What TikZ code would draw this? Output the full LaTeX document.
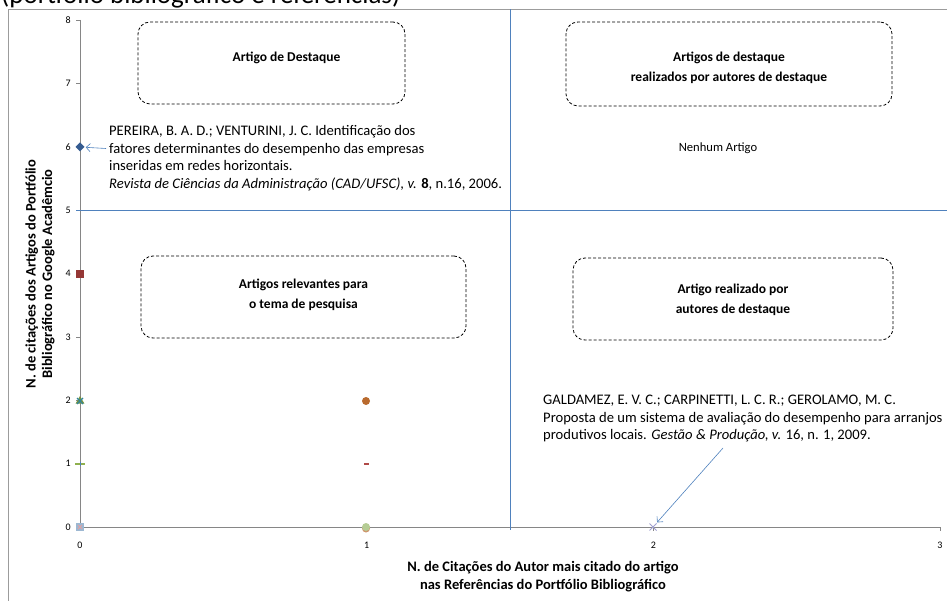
\documentclass[tikz,border=0pt]{standalone}
\usepackage{fontspec}
\setmainfont{Carlito}
\usepackage{tikz}
\usetikzlibrary{shapes, arrows.meta, positioning, calc}

\definecolor{quadblue}{HTML}{4F81BD}
\definecolor{axisgray}{HTML}{868686}
\definecolor{framegray}{HTML}{9C9C9C}
\definecolor{ptnavy}{HTML}{355C91}
\definecolor{ptbrick}{HTML}{953735}
\definecolor{ptolive}{HTML}{77933C}
\definecolor{ptteal}{HTML}{31859C}
\definecolor{ptlime}{HTML}{8FB04E}
\definecolor{ptsteel}{HTML}{9DB8D2}
\definecolor{ptpink}{HTML}{E6A0A0}
\definecolor{ptorange}{HTML}{B96A2E}
\definecolor{ptred}{HTML}{B04A48}
\definecolor{ptsage}{HTML}{B5CC94}
\definecolor{ptlilac}{HTML}{A0A0D0}

\begin{document}
\begin{tikzpicture}[x=1pt, y=-1pt,
    quadbox/.style={draw, line width=0.8pt, dash pattern=on 3pt off 2pt, rounded corners=12pt},
    quadlabel/.style={align=center, font=\fontsize{13.5}{20.5}\selectfont\bfseries},
    ticklabel/.style={font=\fontsize{10}{11}\selectfont, inner sep=0pt},
    refnote/.style={align=left, anchor=north west, inner sep=0pt, font=\fontsize{14.6}{17.5}\selectfont},
    callout/.style={draw=quadblue, line width=0.6pt, -{Straight Barb[length=4pt, width=8pt]}, shorten >=1.5pt},
    divider/.style={draw=quadblue, line width=1pt},
    mk/.style={inner sep=0pt, outer sep=0pt}]

        \useasboundingbox (0,0) rectangle (947,601);

        % ------------------ Frame and axes ------------------

        \node[anchor=base west, inner sep=0pt, font=\fontsize{27}{30}\selectfont] (title) at (1,3.5) {(portfólio bibliográfico e referências)};

        \draw[framegray, line width=0.8pt] (8,620) -- (8,9.5) -- (960,9.5);

        \draw[axisgray, line width=0.8pt] (80,20) -- (80,527) -- (940,527);
        \foreach \k in {0,...,8} {
            \draw[axisgray, line width=0.6pt] (76,527-63.375*\k) -- (80,527-63.375*\k);
            \node[ticklabel, anchor=east] at (71,527-63.375*\k) {\k};
        }
        \foreach \k in {0,...,3} {
            \draw[axisgray, line width=0.6pt] (80+286.67*\k,527) -- (80+286.67*\k,531);
            \node[ticklabel] at (80+286.67*\k,545) {\k};
        }

        \node[rotate=90, align=center, font=\fontsize{14.5}{16.5}\selectfont\bfseries] (ytitle) at (40,274)
            {N. de citações dos Artigos do Portfólio\\Bibliográfico no Google Acadêmcio};
        \node[align=center, font=\fontsize{14.5}{18}\selectfont\bfseries] (xtitle) at (543,577)
            {N. de Citações do Autor mais citado do artigo\\nas Referências do Portfólio Bibliográfico};

        % Quadrant dividers
        \draw[divider] (510.5,9.5) -- (510.5,530);
        \draw[divider] (76,210.5) -- (960,210.5);

        % ------------------ Quadrant labels ------------------

        \node[quadbox, minimum width=267pt, minimum height=82pt] (destaque) at (271.5,63) {};
        \node[quadbox, minimum width=326pt, minimum height=84pt] (ambos) at (729,64) {};
        \node[quadbox, minimum width=325pt, minimum height=82pt] (relevantes) at (303.5,297) {};
        \node[quadbox, minimum width=320pt, minimum height=82pt] (autores) at (733,299) {};

        \node[quadlabel] (destaquetxt) at ($(destaque.center)+(15,-5)$) {Artigo de Destaque};
        \node[quadlabel] (ambostxt) at ($(ambos.center)+(0,4)$) {Artigos de destaque\\realizados por autores de destaque};
        \node[quadlabel] (relevantestxt) at ($(relevantes.center)+(0,-2)$) {Artigos relevantes para\\o tema de pesquisa};
        \node[quadlabel] (autorestxt) at ($(autores.center)+(0,1)$) {Artigo realizado por\\autores de destaque};

        \node[font=\fontsize{12.6}{14}\selectfont] (nenhum) at (718,148) {Nenhum Artigo};

        % ------------------ Data points ------------------

        \node[mk, diamond, fill=ptnavy, minimum size=9pt] (art06) at (80,147) {};
        \node[mk, rectangle, fill=ptbrick, minimum size=8pt] (art04) at (80,274) {};
        \node[mk, regular polygon, regular polygon sides=3, fill=ptolive, minimum size=10pt] (art02a) at (80,401) {};
        \node[mk, cross out, draw=ptteal, line width=1.3pt, minimum size=6pt] (art02b) at (80,401) {};
        \node[mk, rectangle, fill=ptlime, minimum width=10pt, minimum height=2pt] (art01a) at (80,464) {};
        \node[mk, rectangle, fill=quadblue, minimum width=1pt, minimum height=4pt] (art01b) at (80,464) {};
        \node[mk, rectangle, fill=ptsteel, minimum size=8pt] (art00a) at (80,527) {};
        \node[mk, cross out, draw=ptpink, line width=0.8pt, minimum size=4pt] (art00b) at (80,527) {};
        \node[mk, circle, fill=ptorange, minimum size=8pt] (art12) at (366,401) {};
        \node[mk, rectangle, fill=ptred, minimum width=5pt, minimum height=2pt] (art11) at (366,464) {};
        \node[mk, circle, fill=ptorange!70, minimum size=8pt] (art10a) at (366,528.5) {};
        \node[mk, circle, fill=ptsage, minimum size=8pt] (art10b) at (366,527) {};
        \node[mk, cross out, draw=ptlilac, line width=0.8pt, minimum size=7pt] (art20) at (653,527) {};

        % ------------------ References ------------------

        \node[refnote] (pereira) at (109,125.5)
            {PEREIRA, B. A. D.; VENTURINI, J. C. Identificação dos\\
             fatores determinantes do desempenho das empresas\\
             inseridas em redes horizontais.\\
             \textit{Revista de Ciências da Administração (CAD/UFSC), v.} \textbf{8}, n.16, 2006.};

        \node[refnote] (galdamez) at (543,395)
            {GALDAMEZ, E. V. C.; CARPINETTI, L. C. R.; GEROLAMO, M. C.\\
             Proposta de um sistema de avaliação do desempenho para arranjos\\
             produtivos locais. \textit{Gestão \& Produção, v.} 16, n. 1, 2009.};

        \coordinate (galtail) at (723,448);

        % Arrows
        \draw[callout] ($(pereira.west |- art06)+(-3,1.5)$) -- (art06);
        \draw[callout] (galtail) -- (art20);

    \end{tikzpicture}
\end{document}
